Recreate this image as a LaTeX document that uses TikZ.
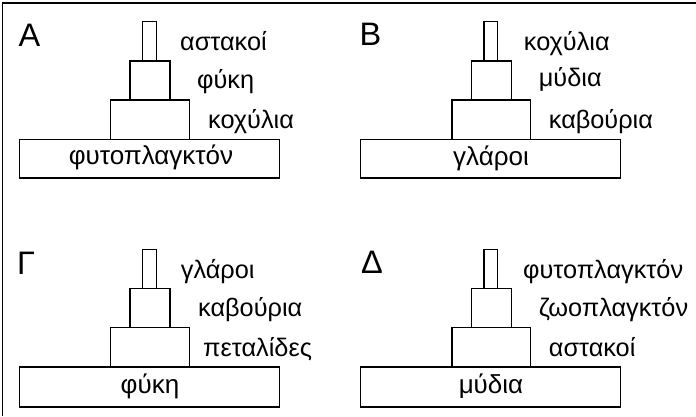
\documentclass[tikz,border=0pt]{standalone}
\usepackage{fontspec}
\setmainfont{Liberation Sans}
\begin{document}
\begin{tikzpicture}[x=1pt,y=-1pt,
  blk/.style={draw, line width=1.2pt},
  lbl/.style={anchor=base west, inner sep=0, font=\fontsize{25.3}{29}\selectfont},
  basetxt/.style={anchor=base, inner sep=0, font=\fontsize{26}{30}\selectfont},
  letter/.style={anchor=base west, inner sep=0, font=\fontsize{32.5}{38}\selectfont}]
\useasboundingbox (0,0) rectangle (696,416);
% outer frame lines
\coordinate (fTL) at (2.2,3);
\coordinate (fTR) at (696,3);
\coordinate (fBL) at (2.2,416);
\draw[line width=1.2pt] (fBL) -- (fTL) -- (fTR);

% Panel A
\draw[blk] (142.7,21.7) rectangle (156.3,61);
\draw[blk] (130,61) rectangle (170,100);
\draw[blk] (110.7,100) rectangle (189.3,139.3);
\draw[blk] (19.3,139.3) rectangle (279.3,178);
\node[letter] (LA) at (18.5,46.7) {A};
\node[lbl] (a1) at (180,50) {αστακοί};
\node[lbl] (a2) at (197,88) {φύκη};
\node[lbl] (a3) at (208,128.3) {κοχύλια};
\node[basetxt] (a4) at (151,164) {φυτοπλαγκτόν};

% Panel B
\draw[blk] (484,21.7) rectangle (497.6,61);
\draw[blk] (471.3,61) rectangle (511.3,100);
\draw[blk] (452,100) rectangle (530.6,139.3);
\draw[blk] (360.6,139.3) rectangle (620.6,178);
\node[letter] (LB) at (359.5,45) {B};
\node[lbl] (b1) at (523.7,50) {κοχύλια};
\node[lbl] (b2) at (538.7,86.5) {μύδια};
\node[lbl] (b3) at (548.7,128) {καβούρια};
\node[basetxt] (b4) at (491,165) {γλάροι};

% Panel Gamma
\draw[blk] (142.7,249.7) rectangle (156.3,288.7);
\draw[blk] (130,288.7) rectangle (170,327.3);
\draw[blk] (110.7,327.3) rectangle (189.3,367);
\draw[blk] (19.3,367) rectangle (279.3,407);
\node[letter] (LG) at (17,274) {Γ};
\node[lbl] (g1) at (180.7,278) {γλάροι};
\node[lbl] (g2) at (198,316.3) {καβούρια};
\node[lbl] (g3) at (203,356.3) {πεταλίδες};
\node[basetxt] (g4) at (150,393) {φύκη};

% Panel Delta
\draw[blk] (484,249.7) rectangle (497.6,288.7);
\draw[blk] (471.3,288.7) rectangle (511.3,327.3);
\draw[blk] (452,327.3) rectangle (530.6,367);
\draw[blk] (360.6,367) rectangle (620.6,407);
\node[letter] (LD) at (361,273.3) {Δ};
\node[lbl] (d1) at (523,278) {φυτοπλαγκτόν};
\node[lbl] (d2) at (538.7,316.3) {ζωοπλαγκτόν};
\node[lbl] (d3) at (548.7,356.3) {αστακοί};
\node[basetxt] (d4) at (491,393) {μύδια};
\end{tikzpicture}
\end{document}
